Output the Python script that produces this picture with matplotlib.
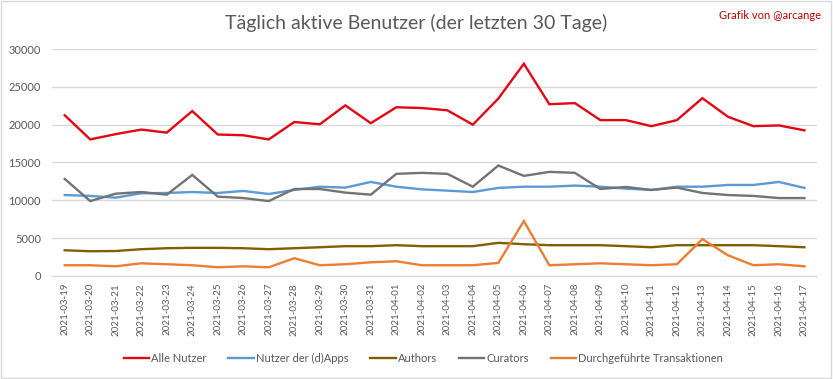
import matplotlib
matplotlib.use("Agg")
import matplotlib.pyplot as plt
import numpy as np
from matplotlib.patches import Rectangle

plt.rcParams['font.family'] = ['Lato', 'DejaVu Sans']

dates = ["2021-03-19", "2021-03-20", "2021-03-21", "2021-03-22", "2021-03-23", "2021-03-24",
         "2021-03-25", "2021-03-26", "2021-03-27", "2021-03-28", "2021-03-29", "2021-03-30",
         "2021-03-31", "2021-04-01", "2021-04-02", "2021-04-03", "2021-04-04", "2021-04-05",
         "2021-04-06", "2021-04-07", "2021-04-08", "2021-04-09", "2021-04-10", "2021-04-11",
         "2021-04-12", "2021-04-13", "2021-04-14", "2021-04-15", "2021-04-16", "2021-04-17"]

alle_nutzer = [21240, 18050, 18750, 19350, 18950, 21800, 18700, 18600, 18050, 20350,
               20050, 22550, 20200, 22300, 22200, 21900, 20000, 23450, 28050, 22700,
               22850, 20600, 20600, 19800, 20600, 23500, 21050, 19800, 19900, 19250]
dapps = [10700, 10580, 10350, 10930, 10970, 11100, 10970, 11240, 10840, 11370,
         11800, 11680, 12430, 11800, 11450, 11280, 11100, 11640, 11800, 11800,
         11950, 11800, 11550, 11370, 11800, 11800, 12030, 12030, 12430, 11640]
authors = [3400, 3270, 3300, 3540, 3670, 3720, 3720, 3670, 3540, 3670,
           3800, 3940, 3940, 4070, 3940, 3940, 3940, 4380, 4200, 4070,
           4070, 4070, 3940, 3800, 4070, 4070, 4070, 4070, 3940, 3800]
curators = [12830, 9900, 10880, 11100, 10750, 13360, 10490, 10300, 9900, 11500,
            11500, 11020, 10750, 13500, 13630, 13500, 11800, 14600, 13230, 13760,
            13630, 11500, 11770, 11370, 11680, 10970, 10700, 10580, 10300, 10300]
transaktionen = [1420, 1420, 1280, 1680, 1550, 1420, 1150, 1280, 1150, 2350,
                 1420, 1550, 1810, 1950, 1420, 1420, 1420, 1730, 7260, 1420,
                 1550, 1680, 1550, 1420, 1550, 4870, 2740, 1420, 1550, 1280]

series = [
    ("Alle Nutzer", alle_nutzer, "#E30613"),
    ("Nutzer der (d)Apps", dapps, "#5B9BD5"),
    ("Authors", authors, "#7F6000"),
    ("Curators", curators, "#737373"),
    ("Durchgeführte Transaktionen", transaktionen, "#ED7D31"),
]

fig = plt.figure(figsize=(8.33, 3.79), dpi=100)
ax = fig.add_axes([0.0624, 0.2718, 0.9186, 0.5989])

x = np.arange(len(dates))
for name, vals, col in series:
    ax.plot(x, vals, color=col, lw=1.7, label=name, solid_joinstyle='miter')

ax.set_xlim(-0.5, len(dates) - 0.5)
ax.set_ylim(0, 30000)
ax.set_yticks(np.arange(0, 30001, 5000))
ax.grid(axis='y', color='#D9D9D9', lw=1)
ax.set_axisbelow(True)
for s in ['top', 'right', 'left']:
    ax.spines[s].set_visible(False)
ax.spines['bottom'].set_color('#D9D9D9')
ax.set_xticks(x)
ax.set_xticklabels(dates, rotation=90, fontsize=7, color='#595959')
ax.tick_params(axis='y', length=0, labelsize=8, labelcolor='#595959', pad=8)
ax.tick_params(axis='x', length=0, pad=5)

fig.text(0.5, 0.94, "Täglich aktive Benutzer (der letzten 30 Tage)", ha='center', va='center',
         fontsize=14, color='#595959')
fig.text(0.985, 0.96, "Grafik von @arcange", ha='right', va='center', fontsize=8,
         color='#C00000')

leg = fig.legend(loc='center', bbox_to_anchor=(0.508, 0.055), ncol=5, frameon=False,
                 fontsize=8, handlelength=2.3, handletextpad=0.15, columnspacing=2.0)
for t in leg.get_texts():
    t.set_color('#595959')

fig.patches.append(Rectangle((0.001, 0.002), 0.997, 0.995, transform=fig.transFigure,
                             fill=False, edgecolor='#D9D9D9', lw=1))

fig.savefig("out.png", dpi=100)
